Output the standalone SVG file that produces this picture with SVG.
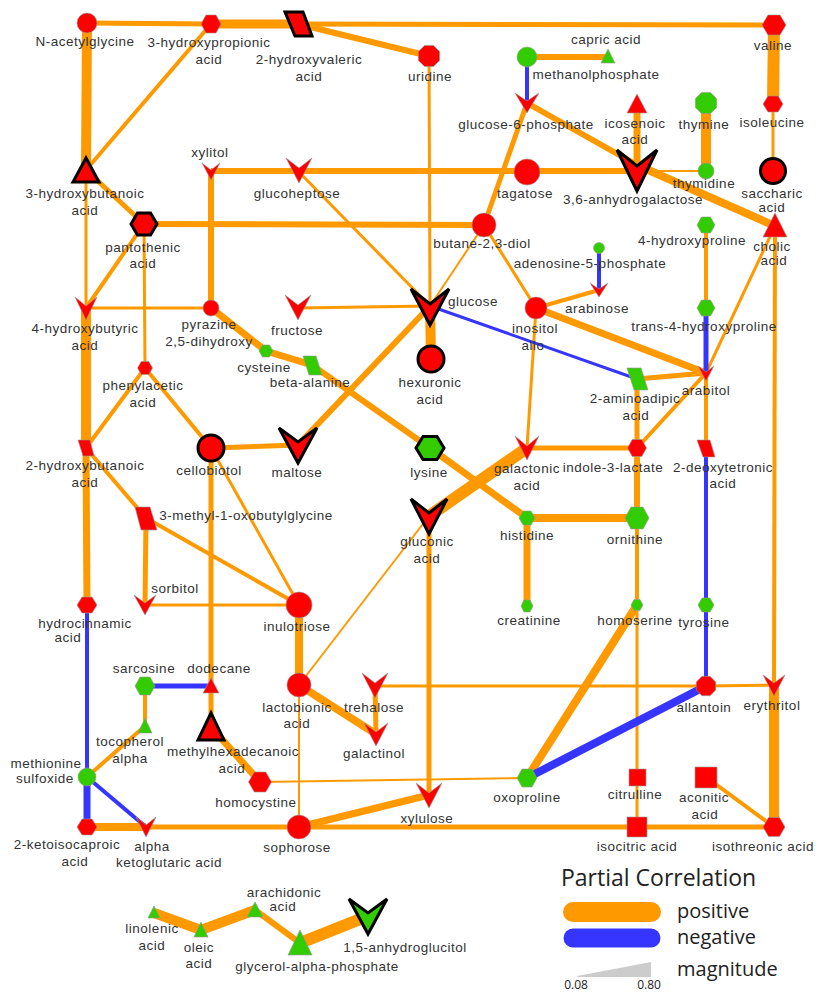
<svg xmlns="http://www.w3.org/2000/svg" width="817" height="994" viewBox="0 0 817 994">
<style>
.p{stroke:#FF9900;fill:none}
.n{stroke:#3535FF;fill:none}
.r{fill:#FF0000;stroke:#999;stroke-width:0.6}
.g{fill:#33CC00;stroke:#999;stroke-width:0.6}
.b{stroke:#000;stroke-width:3;stroke-linejoin:miter}
text{font-family:"Liberation Sans",Arial,sans-serif;font-size:13.5px;fill:#333;text-anchor:middle;letter-spacing:0.5px}
.leg{font-family:"Open Sans","Noto Sans",sans-serif;letter-spacing:0;fill:#222;text-anchor:start}
</style>
<rect width="817" height="994" fill="#fff"/>
<g id="edges">
<line class="p" x1="87" y1="23" x2="211" y2="24" stroke-width="5"/>
<line class="p" x1="87" y1="23" x2="86" y2="170" stroke-width="10"/>
<line class="p" x1="211" y1="24" x2="298" y2="24" stroke-width="9"/>
<line class="p" x1="211" y1="24" x2="86" y2="170" stroke-width="4"/>
<line class="p" x1="298" y1="24" x2="774" y2="25" stroke-width="5"/>
<line class="p" x1="298" y1="24" x2="429" y2="56" stroke-width="6"/>
<line class="p" x1="429" y1="56" x2="430" y2="306" stroke-width="3"/>
<line class="p" x1="527" y1="57" x2="608" y2="57" stroke-width="6"/>
<line class="p" x1="527" y1="103" x2="637" y2="165" stroke-width="6"/>
<line class="p" x1="637" y1="165" x2="775" y2="226" stroke-width="8"/>
<line class="p" x1="527" y1="103" x2="484" y2="225" stroke-width="5"/>
<line class="p" x1="637" y1="104" x2="637" y2="171" stroke-width="7"/>
<line class="p" x1="706" y1="103" x2="706" y2="171" stroke-width="10"/>
<line class="p" x1="774" y1="25" x2="773" y2="104" stroke-width="12"/>
<line class="p" x1="773" y1="104" x2="773" y2="171" stroke-width="3"/>
<line class="p" x1="211" y1="171" x2="637" y2="171" stroke-width="6"/>
<line class="p" x1="637" y1="171" x2="706" y2="171" stroke-width="2"/>
<line class="p" x1="211" y1="171" x2="211" y2="308" stroke-width="6"/>
<line class="p" x1="298" y1="171" x2="430" y2="306" stroke-width="3"/>
<line class="p" x1="86" y1="170" x2="144" y2="224" stroke-width="5"/>
<line class="p" x1="86" y1="170" x2="86" y2="308" stroke-width="3"/>
<line class="p" x1="144" y1="224" x2="484" y2="225" stroke-width="6"/>
<line class="p" x1="144" y1="224" x2="86" y2="308" stroke-width="4"/>
<line class="p" x1="144" y1="224" x2="145" y2="368" stroke-width="3"/>
<line class="p" x1="484" y1="225" x2="430" y2="306" stroke-width="2"/>
<line class="p" x1="484" y1="225" x2="536" y2="308" stroke-width="3"/>
<line class="p" x1="775" y1="226" x2="706" y2="373" stroke-width="3"/>
<line class="p" x1="775" y1="226" x2="774" y2="685" stroke-width="4"/>
<line class="p" x1="706" y1="225" x2="706" y2="308" stroke-width="4"/>
<line class="p" x1="536" y1="308" x2="599" y2="290" stroke-width="4"/>
<line class="p" x1="536" y1="308" x2="706" y2="373" stroke-width="7"/>
<line class="p" x1="536" y1="308" x2="527" y2="448" stroke-width="3"/>
<line class="p" x1="637" y1="379" x2="706" y2="373" stroke-width="5"/>
<line class="p" x1="637" y1="379" x2="637" y2="448" stroke-width="5"/>
<line class="p" x1="706" y1="373" x2="637" y2="448" stroke-width="4"/>
<line class="p" x1="706" y1="373" x2="706" y2="448" stroke-width="4"/>
<line class="p" x1="527" y1="448" x2="637" y2="448" stroke-width="5"/>
<line class="p" x1="527" y1="448" x2="429" y2="516" stroke-width="12"/>
<line class="p" x1="430" y1="448" x2="527" y2="518" stroke-width="7"/>
<line class="p" x1="312" y1="365" x2="430" y2="448" stroke-width="6"/>
<line class="p" x1="266" y1="351" x2="312" y2="365" stroke-width="7"/>
<line class="p" x1="211" y1="308" x2="266" y2="351" stroke-width="7"/>
<line class="p" x1="86" y1="308" x2="211" y2="308" stroke-width="3"/>
<line class="p" x1="298" y1="308" x2="430" y2="306" stroke-width="3"/>
<line class="p" x1="430" y1="306" x2="431" y2="359" stroke-width="10"/>
<line class="p" x1="430" y1="306" x2="298" y2="445" stroke-width="6"/>
<line class="p" x1="86" y1="308" x2="86" y2="448" stroke-width="10"/>
<line class="p" x1="145" y1="368" x2="86" y2="448" stroke-width="4"/>
<line class="p" x1="145" y1="368" x2="211" y2="448" stroke-width="4"/>
<line class="p" x1="211" y1="448" x2="298" y2="445" stroke-width="5"/>
<line class="p" x1="211" y1="448" x2="211" y2="686" stroke-width="5"/>
<line class="p" x1="211" y1="686" x2="211" y2="727" stroke-width="5"/>
<line class="p" x1="211" y1="448" x2="299" y2="605" stroke-width="3"/>
<line class="p" x1="86" y1="448" x2="146" y2="518" stroke-width="4"/>
<line class="p" x1="146" y1="518" x2="299" y2="605" stroke-width="4"/>
<line class="p" x1="146" y1="518" x2="145" y2="605" stroke-width="5"/>
<line class="p" x1="145" y1="605" x2="299" y2="605" stroke-width="3"/>
<line class="p" x1="86" y1="448" x2="87" y2="605" stroke-width="7"/>
<line class="p" x1="87" y1="777" x2="145" y2="726" stroke-width="4"/>
<line class="p" x1="145" y1="726" x2="145" y2="686" stroke-width="4"/>
<line class="p" x1="87" y1="827" x2="146" y2="827" stroke-width="8"/>
<line class="p" x1="146" y1="827" x2="299" y2="827" stroke-width="5"/>
<line class="p" x1="299" y1="827" x2="637" y2="827" stroke-width="5"/>
<line class="p" x1="637" y1="827" x2="774" y2="827" stroke-width="5"/>
<line class="p" x1="211" y1="727" x2="260" y2="782" stroke-width="7"/>
<line class="p" x1="260" y1="782" x2="527" y2="778" stroke-width="2"/>
<line class="p" x1="299" y1="605" x2="299" y2="685" stroke-width="8"/>
<line class="p" x1="299" y1="685" x2="429" y2="516" stroke-width="2"/>
<line class="p" x1="299" y1="685" x2="376" y2="734" stroke-width="8"/>
<line class="p" x1="299" y1="685" x2="299" y2="827" stroke-width="2"/>
<line class="p" x1="375" y1="686" x2="376" y2="734" stroke-width="5"/>
<line class="p" x1="375" y1="686" x2="706" y2="686" stroke-width="3"/>
<line class="p" x1="706" y1="686" x2="774" y2="685" stroke-width="3"/>
<line class="p" x1="429" y1="516" x2="429" y2="795" stroke-width="5"/>
<line class="p" x1="299" y1="827" x2="429" y2="795" stroke-width="7"/>
<line class="p" x1="527" y1="518" x2="637" y2="518" stroke-width="8"/>
<line class="p" x1="527" y1="518" x2="527" y2="606" stroke-width="7"/>
<line class="p" x1="637" y1="448" x2="637" y2="518" stroke-width="6"/>
<line class="p" x1="637" y1="518" x2="637" y2="605" stroke-width="4"/>
<line class="p" x1="637" y1="605" x2="637" y2="777" stroke-width="3"/>
<line class="p" x1="637" y1="777" x2="637" y2="827" stroke-width="3"/>
<line class="p" x1="637" y1="605" x2="527" y2="778" stroke-width="8"/>
<line class="p" x1="774" y1="685" x2="774" y2="827" stroke-width="10"/>
<line class="p" x1="706" y1="777" x2="774" y2="827" stroke-width="4"/>
<line class="p" x1="154" y1="913" x2="201" y2="930" stroke-width="10"/>
<line class="p" x1="201" y1="930" x2="255" y2="910" stroke-width="10"/>
<line class="p" x1="255" y1="910" x2="300" y2="943" stroke-width="6"/>
<line class="p" x1="300" y1="943" x2="368" y2="916" stroke-width="12"/>
<line class="n" x1="527" y1="57" x2="527" y2="103" stroke-width="4"/>
<line class="n" x1="599" y1="248" x2="599" y2="290" stroke-width="4"/>
<line class="n" x1="430" y1="306" x2="637" y2="379" stroke-width="3"/>
<line class="n" x1="706" y1="308" x2="706" y2="373" stroke-width="5"/>
<line class="n" x1="706" y1="448" x2="706" y2="605" stroke-width="4"/>
<line class="n" x1="706" y1="605" x2="706" y2="686" stroke-width="4"/>
<line class="n" x1="706" y1="686" x2="527" y2="778" stroke-width="8"/>
<line class="n" x1="145" y1="686" x2="211" y2="686" stroke-width="5"/>
<line class="n" x1="87" y1="605" x2="87" y2="777" stroke-width="4"/>
<line class="n" x1="87" y1="777" x2="87" y2="827" stroke-width="7"/>
<line class="n" x1="87" y1="777" x2="146" y2="827" stroke-width="4"/>
</g>
<g id="n-acetylglycine"><circle class="r" cx="87" cy="23" r="10"/><text x="85" y="46">N-acetylglycine</text></g>
<g id="hydroxypropionic"><polygon class="r" points="201,24 206,15 216,15 221,24 216,33 206,33"/><text x="209" y="47">3-hydroxypropionic</text><text x="209" y="64">acid</text></g>
<g id="hydroxyvaleric"><polygon class="r b" points="285,12 303,12 312,36 295,36"/><text x="309" y="64">2-hydroxyvaleric</text><text x="309" y="81">acid</text></g>
<g id="uridine"><polygon class="r" points="439.6,51.6 439.6,60.4 433.4,66.6 424.6,66.6 418.4,60.4 418.4,51.6 424.6,45.4 433.4,45.4"/><text x="430" y="81">uridine</text></g>
<g id="methanolphosphate"><circle class="g" cx="527" cy="57" r="10"/><text x="596" y="79">methanolphosphate</text></g>
<g id="capric"><polygon class="g" points="608,49 601,63 615,63"/><text x="606" y="44">capric  acid</text></g>
<g id="valine"><polygon class="r" points="762,25 768,15 780,15 786,25 780,35 768,35"/><text x="773" y="50">valine</text></g>
<g id="isoleucine"><polygon class="r" points="763,104 768,96 778,96 783,104 778,112 768,112"/><text x="772" y="127">isoleucine</text></g>
<g id="glucose-6-phosphate"><path class="r" d="M515,93 L527,101 L539,93 L527,113 Z"/><text x="526" y="129">glucose-6-phosphate</text></g>
<g id="icosenoic"><polygon class="r" points="637,94 627,113 647,113"/><text x="635" y="128">icosenoic</text><text x="635" y="144">acid</text></g>
<g id="thymine"><polygon class="g" points="716.6,98.6 716.6,107.4 710.4,113.6 701.6,113.6 695.4,107.4 695.4,98.6 701.6,92.4 710.4,92.4"/><text x="704" y="129">thymine</text></g>
<g id="xylitol"><path class="r" d="M202,163 L211,170 L220,163 L211,180 Z"/><text x="210" y="157">xylitol</text></g>
<g id="glucoheptose"><path class="r" d="M286,158 L299,168 L312,158 L299,183 Z"/><text x="297" y="198">glucoheptose</text></g>
<g id="tagatose"><circle class="r" cx="527" cy="172" r="13"/><text x="525" y="198">tagatose</text></g>
<g id="anhydrogalactose"><path class="r b" d="M617,150 L637,166 L657,150 L637,191 Z"/><text x="633" y="204">3,6-anhydrogalactose</text></g>
<g id="thymidine"><circle class="g" cx="706" cy="171" r="8"/><text x="704" y="188">thymidine</text></g>
<g id="saccharic"><circle class="r b" cx="773" cy="171" r="12.5"/><text x="772" y="198">saccharic</text><text x="772" y="212">acid</text></g>
<g id="hydroxybutanoic3"><polygon class="r b" points="86,158 73,182 99,182"/><text x="85" y="198">3-hydroxybutanoic</text><text x="85" y="215">acid</text></g>
<g id="pantothenic"><polygon class="r b" points="131,224 137.5,213 150.5,213 157,224 150.5,235 137.5,235"/><text x="143" y="252">pantothenic</text><text x="143" y="268">acid</text></g>
<g id="butanediol"><circle class="r" cx="484" cy="225" r="12"/><text x="482" y="248">butane-2,3-diol</text></g>
<g id="cholic"><polygon class="r" points="775,213 763,237 787,237"/><text x="772" y="251">cholic</text><text x="774" y="265">acid</text></g>
<g id="hydroxyproline4"><polygon class="g" points="697,225 701.5,217 710.5,217 715,225 710.5,233 701.5,233"/><text x="692" y="245">4-hydroxyproline</text></g>
<g id="adenosine"><circle class="g" cx="599" cy="248" r="5.5"/><text x="590" y="268">adenosine-5-phosphate</text></g>
<g id="arabinose"><path class="r" d="M590,283 L599,289 L608,283 L599,297 Z"/><text x="597" y="313">arabinose</text></g>
<g id="hydroxybutyric"><path class="r" d="M75,297 L86,306 L97,297 L86,320 Z"/><text x="85" y="333">4-hydroxybutyric</text><text x="85" y="350">acid</text></g>
<g id="pyrazine"><circle class="r" cx="211" cy="308" r="8"/><text x="209" y="329">pyrazine</text><text x="209" y="346">2,5-dihydroxy</text></g>
<g id="fructose"><path class="r" d="M285,295 L298,305 L311,295 L298,320 Z"/><text x="297" y="335">fructose</text></g>
<g id="glucose"><path class="r b" d="M411,289 L430,304 L449,289 L430,325 Z"/><text x="473" y="306">glucose</text></g>
<g id="inositol"><circle class="r" cx="536" cy="308" r="11"/><text x="535" y="333">inositol</text><text x="533" y="350">allo</text></g>
<g id="trans-hydroxyproline"><polygon class="g" points="697,308 701.5,300 710.5,300 715,308 710.5,316 701.5,316"/><text x="704" y="331">trans-4-hydroxyproline</text></g>
<g id="cysteine"><polygon class="g" points="259,351 262.5,345 269.5,345 273,351 269.5,357 262.5,357"/><text x="264" y="372">cysteine</text></g>
<g id="beta-alanine"><polygon class="g" points="303,356 316,356 322,375 309,375"/><text x="310" y="387">beta-alanine</text></g>
<g id="hexuronic"><circle class="r b" cx="431" cy="359" r="13"/><text x="430" y="387">hexuronic</text><text x="430" y="404">acid</text></g>
<g id="aminoadipic"><polygon class="g" points="627,368 641,368 648,390 634,390"/><text x="635" y="403">2-aminoadipic</text><text x="636" y="420">acid</text></g>
<g id="arabitol"><path class="r" d="M698,366 L706,372 L714,366 L706,381 Z"/><text x="706" y="395">arabitol</text></g>
<g id="phenylacetic"><polygon class="r" points="137.5,368 141.25,361.5 148.75,361.5 152.5,368 148.75,374.5 141.25,374.5"/><text x="143" y="390">phenylacetic</text><text x="143" y="407">acid</text></g>
<g id="hydroxybutanoic2"><polygon class="r" points="78,440 90,440 94,456 83,456"/><text x="85" y="470">2-hydroxybutanoic</text><text x="85" y="487">acid</text></g>
<g id="cellobiotol"><circle class="r b" cx="211" cy="448" r="13"/><text x="209" y="475">cellobiotol</text></g>
<g id="maltose"><path class="r b" d="M279,428 L298,442 L317,428 L298,463 Z"/><text x="297" y="477">maltose</text></g>
<g id="lysine"><polygon class="g b" points="416,448 423,436.5 437,436.5 444,448 437,459.5 423,459.5"/><text x="429" y="477">lysine</text></g>
<g id="galactonic"><path class="r" d="M515,436 L527,446 L539,436 L527,460 Z"/><text x="527" y="473">galactonic</text><text x="527" y="490">acid</text></g>
<g id="indole-lactate"><polygon class="r" points="627.5,448 632.25,439.5 641.75,439.5 646.5,448 641.75,456.5 632.25,456.5"/><text x="613" y="472">indole-3-lactate</text></g>
<g id="deoxytetronic"><polygon class="r" points="697,440 710,440 715,457 703,457"/><text x="723" y="472">2-deoxytetronic</text><text x="723" y="488">acid</text></g>
<g id="methyloxobutylglycine"><polygon class="r" points="135,507 150,507 157,530 141,530"/><text x="246" y="520">3-methyl-1-oxobutylglycine</text></g>
<g id="gluconic"><path class="r b" d="M411,499 L429,513 L447,499 L429,534 Z"/><text x="427" y="546">gluconic</text><text x="427" y="563">acid</text></g>
<g id="histidine"><polygon class="g" points="519,518 523,511 531,511 535,518 531,525 523,525"/><text x="527" y="540">histidine</text></g>
<g id="ornithine"><polygon class="g" points="625,518 631,507 643,507 649,518 643,529 631,529"/><text x="635" y="544">ornithine</text></g>
<g id="sorbitol"><path class="r" d="M134,595 L145,603 L156,595 L145,615 Z"/><text x="175" y="593">sorbitol</text></g>
<g id="hydrocinnamic"><polygon class="r" points="77,605 82,597 92,597 97,605 92,613 82,613"/><text x="85" y="628">hydrocinnamic</text><text x="68" y="642">acid</text></g>
<g id="inulotriose"><circle class="r" cx="299" cy="605" r="13"/><text x="297" y="631">inulotriose</text></g>
<g id="creatinine"><polygon class="g" points="521,606 524,600 530,600 533,606 530,612 524,612"/><text x="529" y="625">creatinine</text></g>
<g id="homoserine"><polygon class="g" points="631,605 634,599.5 640,599.5 643,605 640,610.5 634,610.5"/><text x="635" y="625">homoserine</text></g>
<g id="tyrosine"><polygon class="g" points="698,605 702,598 710,598 714,605 710,612 702,612"/><text x="704" y="627">tyrosine</text></g>
<g id="sarcosine"><polygon class="g" points="135,686 140,677 150,677 155,686 150,695 140,695"/><text x="144" y="673">sarcosine</text></g>
<g id="dodecane"><polygon class="r" points="211,678 203,693 219,693"/><text x="219" y="673">dodecane</text></g>
<g id="lactobionic"><circle class="r" cx="299" cy="685" r="12"/><text x="297" y="712">lactobionic</text><text x="297" y="728">acid</text></g>
<g id="trehalose"><path class="r" d="M362,673 L375,683 L388,673 L375,698 Z"/><text x="374" y="712">trehalose</text></g>
<g id="allantoin"><polygon class="r" points="715.7,682 715.7,690 710,695.7 702,695.7 696.3,690 696.3,682 702,676.3 710,676.3"/><text x="704" y="712">allantoin</text></g>
<g id="erythritol"><path class="r" d="M763,675 L774,683 L785,675 L774,696 Z"/><text x="772" y="710">erythritol</text></g>
<g id="tocopherol"><polygon class="g" points="145,718 138,733 152,733"/><text x="130" y="746">tocopherol</text><text x="130" y="763">alpha</text></g>
<g id="methylhexadecanoic"><polygon class="r b" points="211,713 198,740 224,740"/><text x="233" y="756">methylhexadecanoic</text><text x="232" y="773">acid</text></g>
<g id="galactinol"><path class="r" d="M364,723 L376,732 L388,723 L376,746 Z"/><text x="374" y="758">galactinol</text></g>
<g id="methionine-sulfoxide"><circle class="g" cx="87" cy="777" r="9"/><text x="46" y="768">methionine</text><text x="45" y="783">sulfoxide</text></g>
<g id="homocystine"><polygon class="r" points="248.5,782 254.25,772 265.75,772 271.5,782 265.75,792 254.25,792"/><text x="256" y="807">homocystine</text></g>
<g id="xylulose"><path class="r" d="M416,783 L429,793 L442,783 L429,808 Z"/><text x="427" y="823">xylulose</text></g>
<g id="oxoproline"><polygon class="g" points="517,778 522,769 532,769 537,778 532,787 522,787"/><text x="527" y="802">oxoproline</text></g>
<g id="citrulline"><rect class="r" x="629" y="769" width="17" height="17"/><text x="635" y="799">citrulline</text></g>
<g id="aconitic"><rect class="r" x="695" y="767" width="22" height="21"/><text x="704" y="802">aconitic</text><text x="705" y="819">acid</text></g>
<g id="ketoisocaproic"><polygon class="r" points="77,827 82,819 92,819 97,827 92,835 82,835"/><text x="67" y="849">2-ketoisocaproic</text><text x="75" y="866">acid</text></g>
<g id="ketoglutaric"><path class="r" d="M136,817 L146,825 L156,817 L146,837 Z"/><text x="152" y="851">alpha</text><text x="169" y="867">ketoglutaric  acid</text></g>
<g id="sophorose"><circle class="r" cx="299" cy="827" r="12"/><text x="297" y="852">sophorose</text></g>
<g id="isocitric"><rect class="r" x="627" y="817" width="20" height="20"/><text x="637" y="851">isocitric acid</text></g>
<g id="isothreonic"><polygon class="r" points="763,827 768.5,817.5 779.5,817.5 785,827 779.5,836.5 768.5,836.5"/><text x="763" y="851">isothreonic  acid</text></g>
<g id="linolenic"><polygon class="g" points="154,906 148,918 160,918"/><text x="152" y="933">linolenic</text><text x="152" y="950">acid</text></g>
<g id="oleic"><polygon class="g" points="201,922 194,937 208,937"/><text x="199" y="952">oleic</text><text x="199" y="968">acid</text></g>
<g id="arachidonic"><polygon class="g" points="255,902 247,917 263,917"/><text x="284" y="897">arachidonic</text><text x="283" y="911">acid</text></g>
<g id="glycerol-phosphate"><polygon class="g" points="300,930 288,955 312,955"/><text x="317" y="971">glycerol-alpha-phosphate</text></g>
<g id="anhydroglucitol"><path class="g b" d="M349,899 L368,913 L387,899 L368,934 Z"/><text x="405" y="952">1,5-anhydroglucitol</text></g>
<g id="legend">
<text class="leg" x="561" y="886" style="font-size:23px">Partial Correlation</text>
<line x1="573" y1="912" x2="651" y2="912" stroke="#FF9900" stroke-width="20" stroke-linecap="round"/>
<line x1="573" y1="938" x2="651" y2="938" stroke="#3535FF" stroke-width="19" stroke-linecap="round"/>
<text class="leg" x="677" y="918" style="font-size:20px">positive</text>
<text class="leg" x="677" y="944" style="font-size:20px">negative</text>
<polygon points="577,976 651,962 651,977 577,977" fill="#ccc"/>
<text class="leg" x="677" y="976" style="font-size:20px">magnitude</text>
<text class="leg" x="576" y="989" style="font-size:12px;text-anchor:middle">0.08</text>
<text class="leg" x="649" y="989" style="font-size:12px;text-anchor:middle">0.80</text>
</g>
</svg>
